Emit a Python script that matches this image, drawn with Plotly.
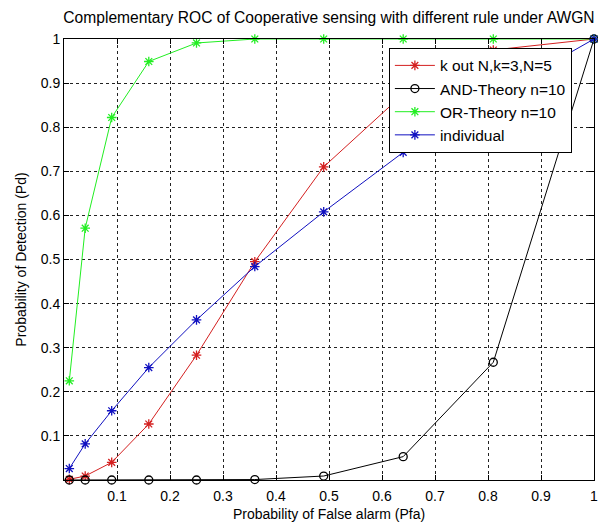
import plotly.graph_objects as go

pfa = [0.01, 0.04, 0.09, 0.16, 0.25, 0.36, 0.49, 0.64, 0.81, 1.0]
pd_kofn = [0.0015, 0.009, 0.04, 0.127, 0.283, 0.495, 0.71, 0.875, 0.975, 1.0]
pd_and = [0.0, 0.0, 0.0, 0.0, 0.0, 0.001, 0.009, 0.053, 0.267, 1.0]
pd_or = [0.225, 0.571, 0.822, 0.949, 0.991, 1.0, 1.0, 1.0, 1.0, 1.0]
pd_ind = [0.026, 0.082, 0.157, 0.255, 0.363, 0.484, 0.608, 0.743, 0.87, 1.0]

ticks = [0.1, 0.2, 0.3, 0.4, 0.5, 0.6, 0.7, 0.8, 0.9, 1.0]
tick_text = ["0.1", "0.2", "0.3", "0.4", "0.5", "0.6", "0.7", "0.8", "0.9", "1"]

FONT = "Liberation Sans, Arial, sans-serif"

series = [
    ("k out N,k=3,N=5", pd_kofn, "#d42020", "asterisk-open", 8),
    ("AND-Theory n=10", pd_and, "#000000", "circle-open", 8),
    ("OR-Theory n=10", pd_or, "#22ee22", "asterisk-open", 8),
    ("individual", pd_ind, "#1010c0", "asterisk-open", 8),
]

fig = go.Figure()
for name, y, col, sym, sz in series:
    fig.add_trace(go.Scatter(
        x=pfa, y=y, name=name, mode="lines+markers",
        line=dict(color=col, width=1),
        marker=dict(symbol=sym, size=sz, color=col, line=dict(color=col, width=1.3)),
        cliponaxis=False,
    ))

axis_common = dict(
    range=[0, 1], tickvals=ticks, ticktext=tick_text,
    showline=True, linecolor="black", linewidth=1, mirror="ticks",
    ticks="inside", ticklen=5, tickcolor="black",
    showgrid=True, gridcolor="#222222", griddash="dot", gridwidth=1,
    zeroline=False, automargin=False, ticklabeloverflow="allow",
    tickfont=dict(family=FONT, size=14, color="black"),
)

fig.update_layout(
    width=598, height=526,
    margin=dict(l=64, r=4, t=39, b=46, autoexpand=False),
    paper_bgcolor="white", plot_bgcolor="white",
    font=dict(family=FONT, size=14, color="black"),
    title=dict(text="Complementary ROC of Cooperative sensing with different rule under AWGN",
               x=0.5, xref="paper", xanchor="center", y=1 - 18 / 526, yanchor="middle",
               font=dict(family=FONT, size=15.6, color="black")),
    xaxis=dict(axis_common, ticklabelstandoff=3,
               title=dict(text="Probability of False alarm (Pfa)", standoff=6,
                          font=dict(family=FONT, size=14))),
    yaxis=dict(axis_common, title=dict(text="Probability of Detection (Pd)", standoff=10,
                                       font=dict(family=FONT, size=14))),
    legend=dict(x=0.613, y=0.98, xanchor="left", yanchor="top",
                bgcolor="white", bordercolor="black", borderwidth=1,
                font=dict(family=FONT, size=15.5, color="black"),
                tracegroupgap=0, itemwidth=40),
    showlegend=True,
)

fig.write_html("out.html", config={"displayModeBar": False},
               post_script="document.body.style.margin='0';document.body.style.overflow='hidden';")
